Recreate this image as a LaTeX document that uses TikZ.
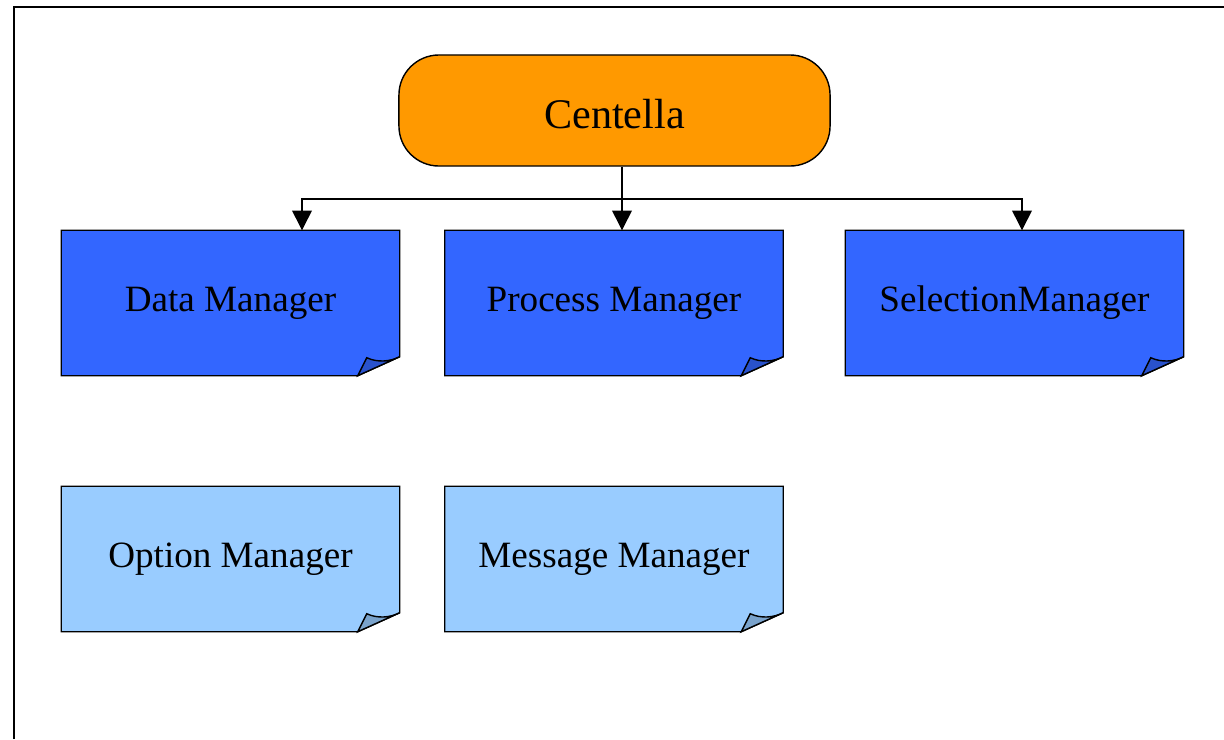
\documentclass[tikz,border=0pt]{standalone}
\usepackage{fontspec}
\setmainfont{Liberation Serif}
\usetikzlibrary{arrows.meta,calc}

\definecolor{rootorange}{HTML}{FF9900}
\definecolor{mgrblue}{HTML}{3366FF}
\definecolor{mgrfold}{HTML}{2952CC}
\definecolor{auxblue}{HTML}{99CCFF}
\definecolor{auxfold}{HTML}{7AA3CC}

\begin{document}
\begin{tikzpicture}[x=0.025cm, y=-0.025cm, line width=1pt,
    >={Triangle[length=14pt, width=14pt]},
    root/.style={draw, fill=rootorange, rounded corners=1cm, minimum width=10.775cm,
      minimum height=2.775cm, text height=26pt, text depth=0pt,
      font=\fontsize{30}{34}\selectfont},
    note/.style={minimum width=8.425cm, minimum height=3.6cm, inner sep=0pt,
      font=\fontsize{26.4}{30}\selectfont}]
  \useasboundingbox (0,0) rectangle (1224,739);
  % frame
  \draw[line width=1.4pt] (14,739) -- (14,7) -- (1224,7);

  \node[root] (centella) at (614.5,110.5) {Centella};

  % manager notes, outlines drawn below
  \node[note] (data) at (230.5,303) {};
  \node[note] (process) at (614,303) {};
  \node[note] (selection) at (1014.5,303) {};
  \node[note] (option) at (230.5,559) {};
  \node[note] (message) at (614,559) {};

  \foreach \n/\c/\f in {data/mgrblue/mgrfold, process/mgrblue/mgrfold,
      selection/mgrblue/mgrfold, option/auxblue/auxfold, message/auxblue/auxfold} {
    \draw[fill=\c] (\n.north west) -- (\n.north east) -- ($(\n.south east)+(0,-19)$)
      -- ($(\n.south east)+(-42,0)$) -- (\n.south west) -- cycle;
    \draw[fill=\f] ($(\n.south east)+(-42,0)$) -- ($(\n.south east)+(-33,-18)$)
      .. controls ($(\n.south east)+(-22,-13)$) and ($(\n.south east)+(-10,-14)$)
      .. ($(\n.south east)+(0,-19)$) -- cycle;
  }

  \node[note] at (data) {Data Manager};
  \node[note] at (process) {Process Manager};
  \node[note] at (selection) {SelectionManager};
  \node[note] at (option) {Option Manager};
  \node[note] at (message) {Message Manager};

  % connectors
  \coordinate (split) at (622,199);
  \coordinate (dsplit) at (302,199);
  \coordinate (ssplit) at (1022,199);
  \draw (centella.south -| split) -- (split);
  \draw[->] (split) -- (split |- process.north);
  \draw[->] (split) -- (dsplit) -- (dsplit |- data.north);
  \draw[->] (split) -- (ssplit) -- (ssplit |- selection.north);
\end{tikzpicture}
\end{document}
